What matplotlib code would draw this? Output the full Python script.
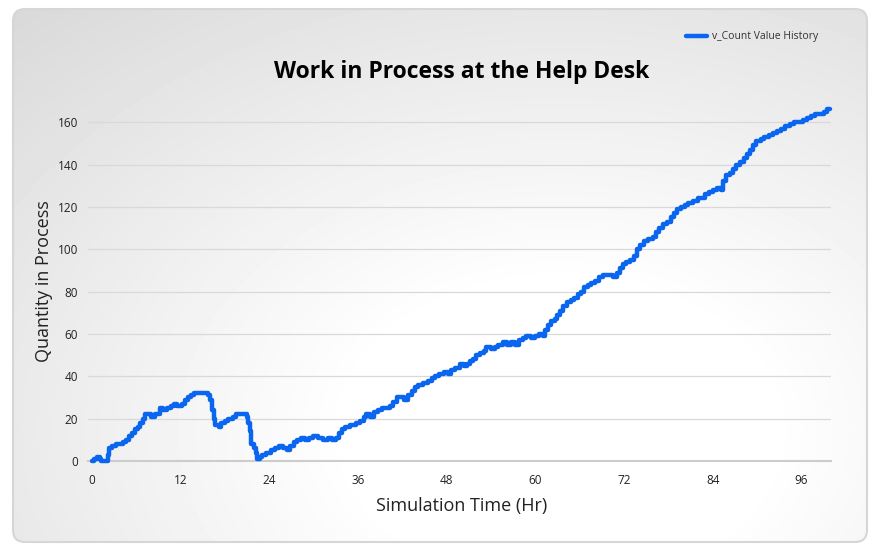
import numpy as np
import matplotlib.pyplot as plt
from matplotlib.patches import FancyBboxPatch

plt.rcParams['font.family'] = ['Open Sans', 'DejaVu Sans']

# v_Count value history (hours, count)
t_hr = [0, 0.3, 0.7, 1.1, 1.3, 2.2, 2.4, 2.7, 3.3, 3.9, 4.2, 4.6, 5.0, 5.4, 5.8,
        6.2, 6.6, 6.9, 7.2, 8.0, 8.5, 9.0, 9.2, 9.6, 10.2, 10.7, 11.2, 11.6, 12.2,
        12.6, 13.0, 13.4, 13.8, 15.7, 16.0, 16.3, 16.5, 16.7, 17.2, 17.5, 18.0,
        18.5, 19.1, 19.5, 21.0, 21.2, 21.4, 21.6, 21.9, 22.2, 22.4, 22.7, 23.0,
        23.6, 24.2, 24.8, 25.3, 25.9, 26.4, 26.8, 27.3, 27.8, 28.3, 28.9, 29.4,
        30.0, 30.6, 31.3, 31.9, 32.5, 33.0, 33.4, 33.8, 34.3, 35.0, 35.7, 36.3,
        36.8, 37.1, 37.6, 38.2, 38.7, 39.3, 40.3, 40.8, 41.3, 41.9, 42.3, 42.8,
        43.3, 43.7, 44.2, 44.8, 45.5, 46.0, 46.5, 47.0, 47.7, 48.2, 48.6, 49.2,
        49.8, 50.3, 50.8, 51.2, 51.6, 52.0, 52.5, 53.0, 53.4, 54.0, 54.5, 55.0,
        55.6, 56.2, 56.7, 57.2, 57.8, 58.3, 58.8, 59.4, 60.0, 60.5, 61.0, 61.3,
        61.7, 62.1, 62.6, 63.0, 63.4, 63.8, 64.3, 64.8, 65.3, 65.8, 66.2, 66.6,
        67.1, 67.6, 68.1, 68.6, 69.2, 70.0, 70.5, 71.0, 71.4, 71.8, 72.3, 72.8,
        73.3, 73.7, 74.2, 74.7, 75.3, 75.9, 76.3, 76.8, 77.3, 77.8, 78.3, 78.7,
        79.2, 79.7, 80.2, 80.7, 81.3, 82.0, 82.6, 83.0, 83.5, 84.0, 84.6, 85.1,
        85.4, 85.8, 86.3, 86.8, 87.2, 87.7, 88.2, 88.6, 89.0, 89.4, 89.9, 90.5,
        91.0, 91.6, 92.2, 92.7, 93.2, 93.8, 94.4, 95.0, 95.6, 96.2, 96.8, 97.3,
        97.9, 98.5, 99.0, 99.5, 99.8]
count = [0, 1, 2, 1, 0, 3, 6, 7, 8, 8, 9, 10, 12, 13, 15,
         16, 18, 20, 22, 21, 22, 22, 25, 24, 25, 26, 27, 26, 27,
         29, 30, 31, 32, 31, 29, 24, 20, 17, 16, 18, 19,
         20, 21, 22, 21, 18, 14, 8, 6, 4, 1, 2, 3,
         4, 5, 6, 7, 6, 5, 7, 9, 10, 11, 10, 11,
         12, 11, 10, 11, 10, 11, 13, 15, 16, 17, 18, 19,
         21, 22, 21, 23, 24, 25, 26, 28, 30, 30, 29, 31,
         33, 35, 36, 37, 38, 39, 40, 41, 42, 41, 43, 44,
         46, 45, 46, 47, 48, 50, 51, 52, 54, 53, 54, 55,
         56, 55, 56, 55, 57, 58, 59, 58, 59, 60, 59, 62,
         64, 66, 67, 69, 71, 73, 75, 76, 77, 79, 80, 82,
         83, 84, 85, 87, 88, 88, 87, 89, 91, 93, 94, 95,
         97, 100, 102, 104, 105, 106, 108, 110, 112, 113, 115, 117,
         119, 120, 121, 122, 123, 124, 124, 126, 127, 128, 129, 128,
         132, 135, 136, 138, 140, 141, 143, 145, 147, 149, 151, 152,
         153, 154, 155, 156, 157, 158, 159, 160, 160, 161, 162, 163,
         164, 164, 165, 166, 166]

x_ticks = [0, 12, 24, 36, 48, 60, 72, 84, 96]
y_ticks = [0, 20, 40, 60, 80, 100, 120, 140, 160]

W, H = 883, 550
fig = plt.figure(figsize=(W / 100, H / 100), dpi=100)
fig.patch.set_facecolor('white')

# background panel with soft gradient and rounded border
bg = fig.add_axes([0, 0, 1, 1], zorder=0)
bg.set_xlim(0, W)
bg.set_ylim(H, 0)
bg.axis('off')
gx, gy = np.meshgrid(np.arange(W), np.arange(H))
d = np.sqrt(((gx - 560) / 600.0) ** 2 + ((gy - 430) / 420.0) ** 2)
shade = 1 - 0.15 * np.clip((d - 0.35) / 1.0, 0, 1)
img = bg.imshow(shade, cmap='gray', vmin=0, vmax=1, extent=(0, W, H, 0),
                interpolation='bilinear')
panel = FancyBboxPatch((13, 9), 854, 533, boxstyle='round,pad=0,rounding_size=12',
                       facecolor='none', edgecolor='#d6d6d6', linewidth=1.5)
bg.add_patch(panel)
img.set_clip_path(panel)

ax = fig.add_axes([88 / W, 1 - 461 / H, 743 / W, 360 / H], zorder=1)
ax.patch.set_alpha(0)
ax.plot(t_hr, count, drawstyle='steps-post', color='#0a66ee', linewidth=3.2,
        solid_joinstyle='round', solid_capstyle='round',
        label='v_Count Value History', clip_on=False, zorder=3)

ax.set_xlim(-0.5, 100)
ax.set_ylim(0, 170)
ax.set_xticks(x_ticks)
ax.set_yticks(y_ticks)
ax.grid(axis='y', color='#d9d9d9', linewidth=0.9)
ax.grid(axis='x', visible=False)
for s in ['top', 'right', 'left']:
    ax.spines[s].set_visible(False)
ax.spines['bottom'].set_color('#cccccc')
ax.spines['bottom'].set_linewidth(1.5)
ax.tick_params(length=0, labelsize=8.5, colors='#222222')
ax.tick_params(axis='x', pad=9)
ax.tick_params(axis='y', pad=7)

ax.set_xlabel('Simulation Time (Hr)', fontsize=13, color='#222222')
ax.set_ylabel('Quantity in Process', fontsize=13, color='#222222')
ax.xaxis.set_label_coords(0.503, -0.100)
ax.yaxis.set_label_coords(-0.047, 0.5)

fig.text(462 / W, 1 - 72 / H, 'Work in Process at the Help Desk', ha='center',
         va='center', fontsize=16.5, fontweight='bold', color='black')

fig.legend(loc='center right', bbox_to_anchor=(818 / W, 1 - 37 / H), frameon=False,
           fontsize=7.5, handlelength=2.0, borderpad=0, borderaxespad=0,
           handletextpad=0.5, labelcolor='#333333')

fig.savefig('out.png', dpi=100)
